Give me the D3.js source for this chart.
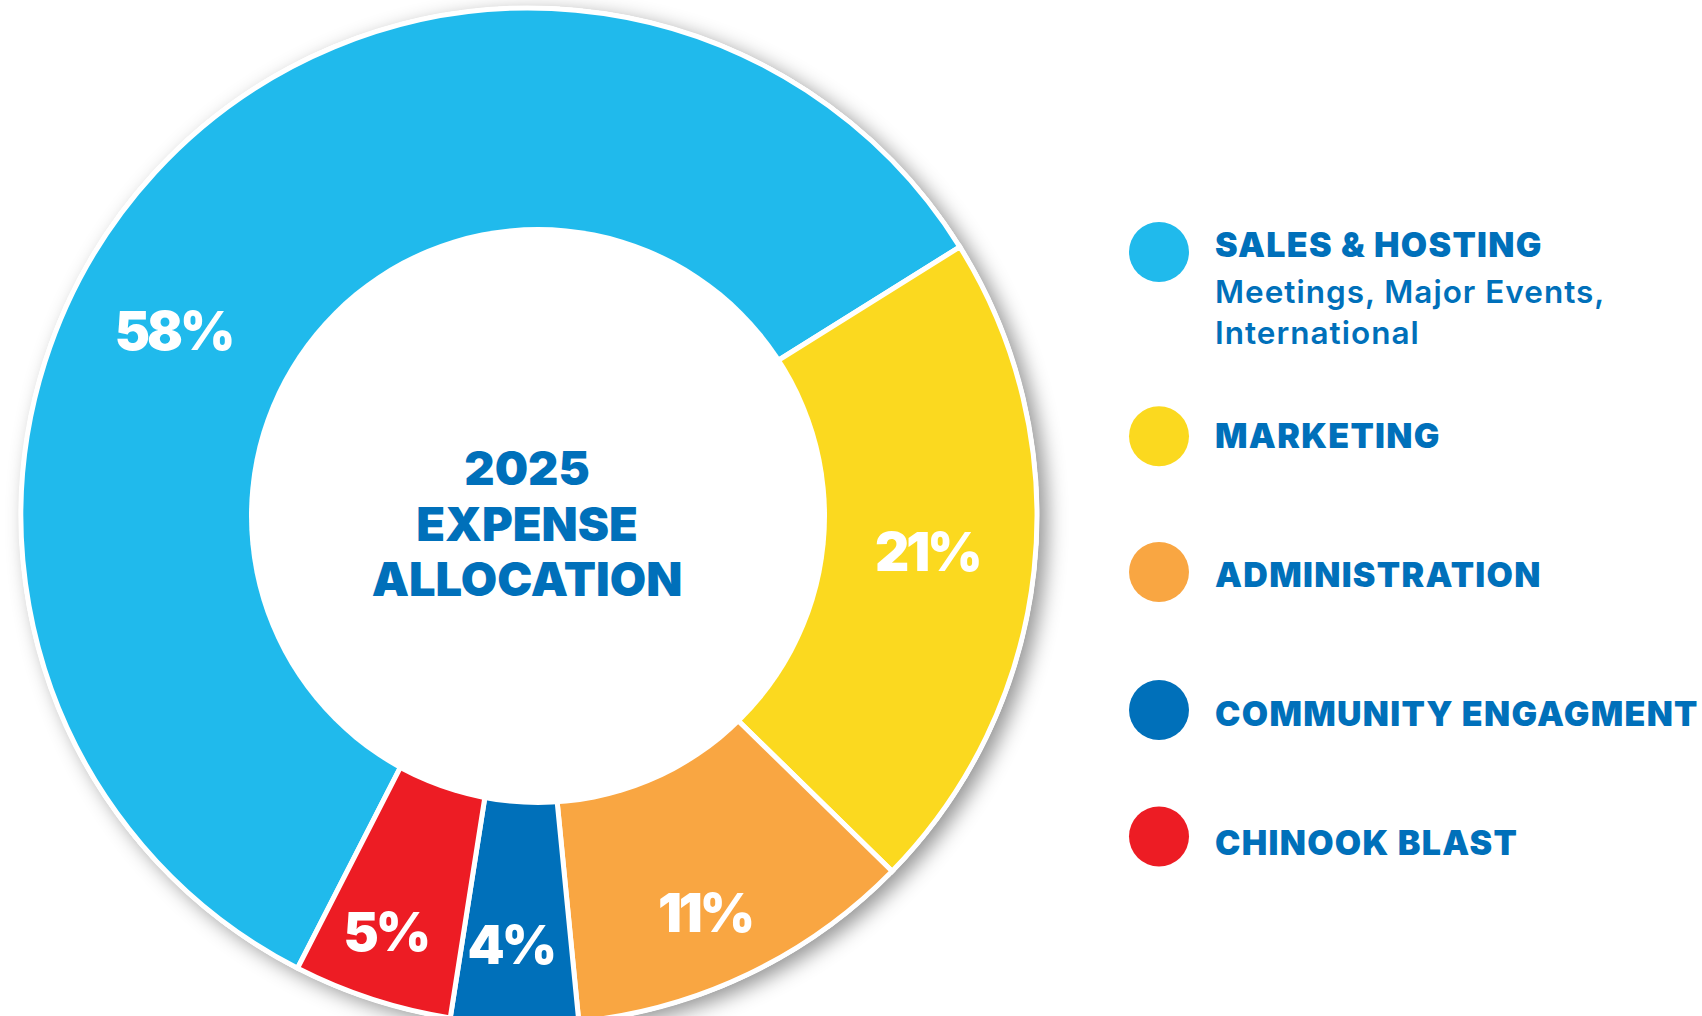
<!DOCTYPE html>
<html><head><meta charset="utf-8">
<script src="https://cdn.jsdelivr.net/npm/d3@7"></script>
<style>html,body{margin:0;padding:0;background:#fff;} svg{display:block}</style>
</head><body>
<svg id="chart" width="1702" height="1016"></svg>
<script>
// ---- data ----
const categories = ["SALES & HOSTING", "MARKETING", "ADMINISTRATION", "COMMUNITY ENGAGMENT", "CHINOOK BLAST"];
const subtitles = [["Meetings, Major Events,", "International"], [], [], [], []];
const values = [58, 21, 11, 4, 5];
const valueLabels = ["58%", "21%", "11%", "4%", "5%"];
const colors = ["#20BAEC", "#FBD91F", "#F9A642", "#0070BA", "#ED1C24"];
const centerTitle = ["2025", "EXPENSE", "ALLOCATION"];

// ---- layout ----
const W = 1702, H = 1016;
const cx = 529, cy = 516, R = 508, holeR = 289, holeDx = 9;
const textColor = "#0070BA";
const FONT = "Inter, 'Open Sans', sans-serif";
const deg = Math.PI / 180;

const svg = d3.select("#chart");
const defs = svg.append("defs");
const f = defs.append("filter").attr("id", "shadow")
  .attr("x", "-20%").attr("y", "-20%").attr("width", "140%").attr("height", "140%");
f.append("feDropShadow").attr("dx", 8).attr("dy", 6).attr("stdDeviation", 10)
  .attr("flood-color", "#000").attr("flood-opacity", 0.42);

const data = categories.map((c, i) => ({ name: c, value: values[i], label: valueLabels[i], color: colors[i] }));

const start = -152.9 * deg;
const pie = d3.pie().sort(null).value(d => d.value).startAngle(start).endAngle(start + 2 * Math.PI);
const arcs = pie(data);
const arc = d3.arc().innerRadius(0).outerRadius(R);

const g = svg.append("g").attr("transform", `translate(${cx},${cy})`);

// shadow disk behind ring
g.append("circle").attr("r", R + 2).attr("fill", "#fff").attr("filter", "url(#shadow)");

g.selectAll("path.slice").data(arcs).join("path")
  .attr("class", "slice")
  .attr("d", arc)
  .attr("fill", d => d.data.color)
  .attr("stroke", "#fff")
  .attr("stroke-width", 5)
  .attr("stroke-linejoin", "miter");

// hole
g.append("circle").attr("cx", holeDx).attr("cy", 0).attr("r", holeR).attr("fill", "#fff");

// value labels: angle nudge (deg) and radius per slice
const labelTweak = [{ da: -15, r: 401 }, { da: -1, r: 400 }, { da: 1.7, r: 434 }, { da: 0.8, r: 429 }, { da: 1, r: 440 }];
g.selectAll("text.val").data(arcs).join("text")
  .attr("class", "val")
  .attr("x", (d, i) => {
    const a = (d.startAngle + d.endAngle) / 2 + labelTweak[i].da * deg;
    return Math.sin(a) * labelTweak[i].r;
  })
  .attr("y", (d, i) => {
    const a = (d.startAngle + d.endAngle) / 2 + labelTweak[i].da * deg;
    return -Math.cos(a) * labelTweak[i].r;
  })
  .attr("dy", "0.36em")
  .attr("text-anchor", "middle")
  .attr("font-family", FONT)
  .attr("font-weight", 900)
  .attr("font-size", 53)
  .attr("letter-spacing", -3)
  .attr("fill", "#fff")
  .text(d => d.data.label);

// center title
g.selectAll("text.ctitle").data(centerTitle).join("text")
  .attr("class", "ctitle")
  .attr("x", -2)
  .attr("y", (d, i) => -31 + i * 55.5)
  .attr("text-anchor", "middle")
  .attr("font-family", FONT)
  .attr("font-weight", 900)
  .attr("font-size", 47)
  .attr("fill", textColor)
  .text(d => d);

// legend
const legX = 1159, legR = 30, legTextX = 1215;
const legCircleY = [252, 436.3, 572, 710, 836.5];
const legBaseline = [257.3, 448.3, 587.3, 726, 855];
const leg = svg.append("g");
const rows = leg.selectAll("g.row").data(data).join("g").attr("class", "row");
rows.append("circle")
  .attr("cx", legX).attr("cy", (d, i) => legCircleY[i]).attr("r", legR)
  .attr("fill", d => d.color);
rows.append("text")
  .attr("x", legTextX).attr("y", (d, i) => legBaseline[i])
  .attr("font-family", FONT).attr("font-weight", 900).attr("font-size", 34)
  .attr("letter-spacing", 1.3)
  .attr("fill", textColor)
  .text(d => d.name);
rows.each(function (d, i) {
  d3.select(this).selectAll("text.sub").data(subtitles[i]).join("text")
    .attr("class", "sub")
    .attr("x", legTextX)
    .attr("y", (s, j) => legBaseline[i] + 46 + j * 41)
    .attr("font-family", FONT).attr("font-weight", 600).attr("font-size", 31.5)
    .attr("letter-spacing", 1.0)
    .attr("fill", textColor)
    .text(s => s);
});
</script>
</body></html>
